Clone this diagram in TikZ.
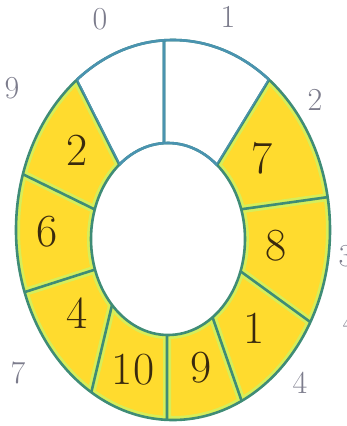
\documentclass[tikz,border=0pt]{standalone}
\usepackage{tikz}
\definecolor{SegYellow}{HTML}{FFDB2E}
\definecolor{LimeHalo}{HTML}{D6EE5A}
\definecolor{RingGreen}{HTML}{3F8C76}
\definecolor{RingBlue}{HTML}{4A93B0}
\definecolor{InkBrown}{HTML}{3A2A0E}
\definecolor{IdxGray}{HTML}{7C7C8C}
\def\outerring{(173,230) ellipse [x radius=157pt,y radius=190pt]}
\def\innerring{(168,239) ellipse [x radius=77pt,y radius=96pt]}
\def\topcells{(122,170) -- (58,43) -- (40,0) -- (300,0) -- (283,57) -- (214,170) -- (164,150) -- cycle}
\def\dividers{(164,150) -- (164,20) (214,170) -- (283,57) (236,210) -- (350,194)
  (236,268) -- (335,340) (210,310) -- (250,425) (167,325) -- (167,440)
  (112,305) -- (80,440) (100,268) -- (0,300) (100,212) -- (0,163) (122,170) -- (58,43)}
\begin{document}
\begin{tikzpicture}[x=1pt,y=-1pt,
    edge/.style={line width=2.6pt,line join=round},
    halo/.style={line width=8pt,LimeHalo},
    val/.style={font=\fontsize{46}{46}\selectfont,text=InkBrown},
    idx/.style={font=\fontsize{32}{32}\selectfont,text=IdxGray}]
  \useasboundingbox (0,0) rectangle (347,426);
  \clip (0,0) rectangle (347,426);
  % yellow ring with light edges
  \begin{scope}
    \clip \outerring;
    \fill[SegYellow] \outerring;
    \draw[halo] \outerring \innerring \dividers;
  \end{scope}
  % empty cells 0 and 1
  \begin{scope}
    \clip \topcells;
    \fill[white] \outerring;
  \end{scope}
  % cell borders
  \begin{scope}
    \clip \outerring;
    \draw[edge,RingGreen] \dividers;
    \clip \topcells;
    \draw[edge,RingBlue] \dividers;
  \end{scope}
  \fill[white] \innerring;
  \draw[edge,RingGreen] \outerring \innerring;
  \begin{scope}
    \clip \topcells;
    \draw[edge,RingBlue] \outerring \innerring;
  \end{scope}
  % stored values
  \node[val] (v9) at (77,150) {2};
  \node[val] (v8) at (47,232) {6};
  \node[val] (v7) at (77,313) {4};
  \node[val] (v6) at (133,370) {10};
  \node[val] (v5) at (201,368) {9};
  \node[val] (v4) at (254,328) {1};
  \node[val] (v3) at (276,246) {8};
  \node[val] (v2) at (262,158) {7};
  % indices
  \node[idx] (i0) at (100,19) {0};
  \node[idx] (i1) at (228,17) {1};
  \node[idx] (i2) at (315,100) {2};
  \node[idx] (i3) at (346,256) {3};
  \node[idx] (i4) at (350,322) {4};
  \node[idx] (i5) at (300,383) {4};
  \node[idx] (i7) at (18,373) {7};
  \node[idx] (i9) at (12,88) {9};
\end{tikzpicture}
\end{document}
